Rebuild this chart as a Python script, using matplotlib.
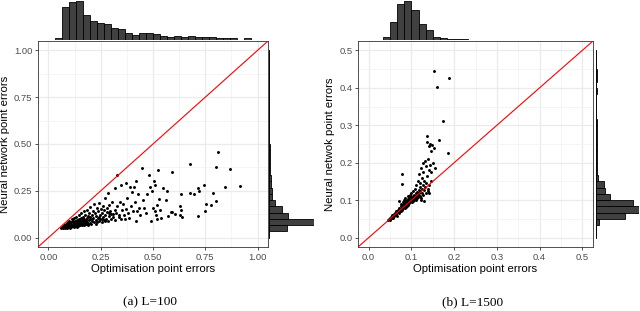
import numpy as np
import matplotlib
matplotlib.use("Agg")
import matplotlib.pyplot as plt

# ---------------- Panel (a) L=100 ----------------
a_x = [0.06, 0.065, 0.07, 0.07, 0.072, 0.075, 0.078, 0.08, 0.08, 0.082, 0.085, 0.085, 0.088, 0.09, 0.09,
       0.092, 0.095, 0.095, 0.098, 0.1, 0.1, 0.1, 0.102, 0.105, 0.105,
       0.11, 0.11, 0.11, 0.112, 0.115, 0.115, 0.118, 0.12, 0.12, 0.12, 0.122, 0.125, 0.125, 0.128, 0.13,
       0.13, 0.13, 0.132, 0.135, 0.135, 0.138, 0.14, 0.14, 0.142, 0.145, 0.145, 0.148, 0.15, 0.15,
       0.152, 0.155, 0.155, 0.158, 0.16, 0.16, 0.162, 0.165, 0.168, 0.17, 0.17, 0.172, 0.175, 0.175, 0.178,
       0.18, 0.182, 0.185, 0.185, 0.188, 0.19, 0.192, 0.195, 0.198, 0.2, 0.2,
       0.205, 0.208, 0.21, 0.212, 0.215, 0.218, 0.22, 0.222, 0.225, 0.228, 0.23, 0.232, 0.235, 0.238, 0.24,
       0.244, 0.245, 0.248, 0.25, 0.255, 0.258, 0.26, 0.262, 0.265, 0.268, 0.27, 0.272, 0.275, 0.278, 0.28,
       0.284, 0.285, 0.288, 0.29, 0.295, 0.298, 0.3,
       0.305, 0.31, 0.316, 0.318, 0.32, 0.325, 0.329, 0.33, 0.335, 0.34, 0.345, 0.349, 0.35, 0.355, 0.36,
       0.365, 0.37, 0.373, 0.375, 0.38, 0.385, 0.39, 0.395, 0.4, 0.405, 0.41, 0.415, 0.42, 0.421, 0.425,
       0.43, 0.435, 0.44, 0.448, 0.45,
       0.458, 0.465, 0.47, 0.48, 0.485, 0.49, 0.495, 0.5, 0.505, 0.508, 0.51, 0.515, 0.518, 0.52, 0.525,
       0.53, 0.535, 0.539, 0.549, 0.56, 0.565, 0.571, 0.584, 0.59, 0.59, 0.603, 0.628, 0.632, 0.63, 0.636, 0.64,
       0.679, 0.679, 0.697, 0.714, 0.714, 0.719, 0.746, 0.748, 0.754, 0.777, 0.788, 0.80, 0.80, 0.81,
       0.844, 0.866, 0.914,
       0.083, 0.093, 0.108, 0.117, 0.127, 0.137, 0.147, 0.157, 0.167, 0.177, 0.187, 0.197, 0.21, 0.225,
       0.24, 0.255, 0.27, 0.29, 0.31, 0.335]
a_y = [0.05, 0.055, 0.05, 0.06, 0.065, 0.055, 0.07, 0.05, 0.06, 0.075, 0.055, 0.065, 0.08, 0.05, 0.06,
       0.07, 0.085, 0.055, 0.065, 0.09, 0.06, 0.075, 0.052, 0.068, 0.08,
       0.055, 0.07, 0.085, 0.1, 0.06, 0.075, 0.09, 0.058, 0.068, 0.08, 0.105, 0.062, 0.09, 0.075, 0.06,
       0.07, 0.085, 0.11, 0.065, 0.095, 0.08, 0.062, 0.072, 0.088, 0.1, 0.12, 0.068, 0.078, 0.09,
       0.065, 0.085, 0.105, 0.13, 0.07, 0.095, 0.075, 0.11, 0.088, 0.068, 0.1, 0.14, 0.08, 0.12, 0.072,
       0.095, 0.105, 0.085, 0.15, 0.075, 0.115, 0.092, 0.13, 0.08, 0.1, 0.165,
       0.075, 0.12, 0.09, 0.14, 0.105, 0.18, 0.082, 0.13, 0.095, 0.115, 0.16, 0.085, 0.105, 0.14, 0.09,
       0.187, 0.12, 0.1, 0.155, 0.085, 0.13, 0.11, 0.17, 0.095, 0.145, 0.21, 0.12, 0.1, 0.16, 0.135,
       0.24, 0.09, 0.115, 0.175, 0.14, 0.1, 0.125,
       0.19, 0.11, 0.263, 0.15, 0.095, 0.13, 0.334, 0.17, 0.12, 0.19, 0.1, 0.281, 0.145, 0.18, 0.12,
       0.1, 0.155, 0.29, 0.21, 0.13, 0.105, 0.27, 0.17, 0.245, 0.14, 0.27, 0.19, 0.3, 0.089, 0.14,
       0.231, 0.16, 0.12, 0.37, 0.2,
       0.16, 0.13, 0.231, 0.333, 0.27, 0.09, 0.25, 0.16, 0.302, 0.14, 0.283, 0.12, 0.176, 0.1, 0.361,
       0.208, 0.15, 0.106, 0.265, 0.201, 0.249, 0.115, 0.138, 0.35, 0.137, 0.124, 0.167, 0.147, 0.12, 0.235, 0.11,
       0.393, 0.237, 0.235, 0.267, 0.115, 0.247, 0.281, 0.14, 0.18, 0.172, 0.24, 0.379, 0.194, 0.459,
       0.27, 0.366, 0.276,
       0.065, 0.072, 0.064, 0.082, 0.072, 0.058, 0.082, 0.075, 0.08, 0.09, 0.068, 0.11, 0.1, 0.075,
       0.11, 0.1, 0.09, 0.13, 0.125, 0.11]
# marginal histogram counts, 30 bins on [0, 1]
a_hist_x = [0, 1, 32, 37, 38, 24, 18, 16, 15, 11, 10, 6, 4, 6, 6, 5, 3, 2, 3, 2, 3, 2, 2, 2, 1, 1, 1, 0, 1, 0]
a_hist_y = [0, 17.7, 44, 18, 12, 5, 3, 2.5, 2, 1.5, 1, 1, 0.7, 0.5, 0.3, 0, 0, 0, 0, 0, 0, 0, 0, 0, 0, 0, 0, 0, 0, 0]

# ---------------- Panel (b) L=1500 ----------------
b_x = [0.045, 0.048, 0.05, 0.05, 0.052, 0.055, 0.055, 0.057, 0.058, 0.06, 0.06, 0.062, 0.063, 0.065, 0.065,
       0.066, 0.068, 0.068, 0.07, 0.07,
       0.071, 0.072, 0.073, 0.074, 0.075, 0.075, 0.076, 0.077, 0.078, 0.078, 0.079, 0.079, 0.08, 0.08, 0.081,
       0.082, 0.083, 0.083, 0.084, 0.085, 0.085, 0.086, 0.087, 0.087, 0.088, 0.089, 0.09, 0.09, 0.09,
       0.091, 0.092, 0.093, 0.093, 0.094, 0.095, 0.095, 0.096, 0.097, 0.097, 0.098, 0.099, 0.1, 0.1, 0.1,
       0.101, 0.102, 0.103, 0.103, 0.104, 0.105, 0.105, 0.106, 0.107, 0.108, 0.108, 0.109, 0.11, 0.11, 0.11,
       0.111, 0.112, 0.113, 0.114, 0.115, 0.115, 0.116, 0.117, 0.118, 0.118, 0.119, 0.12, 0.12, 0.121, 0.122,
       0.122, 0.123, 0.124, 0.125, 0.125, 0.126, 0.127, 0.128, 0.128, 0.129, 0.13, 0.13,
       0.131, 0.132, 0.133, 0.134, 0.135, 0.136, 0.136, 0.137, 0.138, 0.138, 0.139, 0.14, 0.14, 0.141, 0.142,
       0.143, 0.144, 0.145, 0.146, 0.147, 0.148, 0.15, 0.152, 0.1535, 0.155, 0.16, 0.1636,
       0.1745, 0.1846, 0.1886]
b_y = [0.047, 0.05, 0.052, 0.046, 0.055, 0.053, 0.06, 0.058, 0.052, 0.062, 0.057, 0.066, 0.06, 0.064, 0.07,
       0.058, 0.068, 0.075, 0.066, 0.072,
       0.08, 0.097, 0.07, 0.076, 0.085, 0.072, 0.09, 0.078, 0.17, 0.082, 0.144, 0.074, 0.088, 0.095, 0.079,
       0.084, 0.1, 0.09, 0.08, 0.086, 0.093, 0.105, 0.082, 0.09, 0.097, 0.086, 0.1, 0.092, 0.085,
       0.11, 0.095, 0.088, 0.103, 0.098, 0.092, 0.108, 0.1, 0.115, 0.094, 0.104, 0.097, 0.1, 0.108, 0.12,
       0.095, 0.104, 0.112, 0.099, 0.125, 0.106, 0.1, 0.115, 0.103, 0.11, 0.13, 0.105, 0.118, 0.1, 0.108,
       0.14, 0.112, 0.105, 0.122, 0.115, 0.15, 0.108, 0.128, 0.118, 0.17, 0.135, 0.112, 0.145, 0.125, 0.185,
       0.105, 0.1, 0.13, 0.16, 0.12, 0.2, 0.14, 0.115, 0.175, 0.098, 0.15, 0.128,
       0.205, 0.135, 0.19, 0.12, 0.145, 0.272, 0.165, 0.255, 0.13, 0.21, 0.124, 0.18, 0.118, 0.245, 0.14,
       0.195, 0.25, 0.15, 0.23, 0.175, 0.248, 0.2, 0.24, 0.445, 0.185, 0.403, 0.262,
       0.312, 0.227, 0.426]
# marginal histogram counts, 30 bins on [0, 0.5]
b_hist_x = [0, 0, 4, 25, 52, 56, 43, 23, 14, 3, 2, 1, 0.5, 0.5, 0, 0, 0, 0, 0, 0, 0, 0, 0, 0, 0, 0, 0, 0, 0, 0]
b_hist_y = [0, 0, 2.7, 28, 42, 36, 13, 8, 7, 2, 1, 1, 0.7, 0.5, 0.5, 0.3, 0.3, 0.3, 0.3, 0, 0, 0, 0, 0.3, 0, 0.3, 0.3, 0, 0, 0]

W, H = 640, 311
fig = plt.figure(figsize=(W / 100, H / 100), dpi=100)
plt.rcParams['font.family'] = ['Liberation Sans', 'DejaVu Sans']


def rect(x0, y0, x1, y1):
    return [x0 / W, 1 - y1 / H, (x1 - x0) / W, (y1 - y0) / H]


def panel(mx0, mx1, rx0, rx1, xs, ys, hx, hy, hi, ticks, tlabels, ylabel, caption):
    lo = 0.0
    pad = (hi - lo) * 0.05
    lim = (lo - pad, hi + pad)
    ax = fig.add_axes(rect(mx0, 41, mx1, 247))
    ax.set_xlim(lim)
    ax.set_ylim(lim)
    minors = [(ticks[i] + ticks[i + 1]) / 2 for i in range(len(ticks) - 1)]
    ax.set_xticks(ticks)
    ax.set_xticklabels(tlabels)
    ax.set_yticks(ticks)
    ax.set_yticklabels(tlabels)
    ax.set_xticks(minors, minor=True)
    ax.set_yticks(minors, minor=True)
    ax.grid(which='major', color='#EBEBEB', lw=0.9)
    ax.grid(which='minor', color='#F2F2F2', lw=0.5)
    ax.set_axisbelow(True)
    ax.tick_params(which='minor', length=0)
    ax.tick_params(which='major', length=2.5, width=0.6, color='#333333', labelsize=6.8,
                   labelcolor='#4D4D4D', pad=1.5)
    for s in ax.spines.values():
        s.set_color('#333333')
        s.set_linewidth(0.6)
    ax.scatter(xs, ys, s=4.5, c='black', linewidths=0, zorder=3)
    ax.axline((0, 0), slope=1, color='red', lw=0.8, zorder=4)
    ax.set_xlabel('Optimisation point errors', fontsize=8.2, labelpad=2)
    ax.set_ylabel(ylabel, fontsize=8.2, labelpad=3)

    edges = np.linspace(lo, hi, len(hx) + 1)
    top = fig.add_axes(rect(mx0, 1, mx1, 39.5))
    top.bar(edges[:-1], hx, width=np.diff(edges), align='edge', color='#404040',
            edgecolor='black', lw=0.6)
    top.plot([edges[0], edges[-1]], [0, 0], color='black', lw=0.6)
    top.set_xlim(lim)
    top.set_ylim(0, max(hx))
    top.axis('off')

    right = fig.add_axes(rect(rx0, 41, rx1, 247))
    right.barh(edges[:-1], hy, height=np.diff(edges), align='edge', color='#404040',
               edgecolor='black', lw=0.6)
    right.plot([0, 0], [edges[0], edges[-1]], color='black', lw=0.6)
    right.set_ylim(lim)
    right.set_xlim(-max(hy) * 0.01, max(hy))
    right.axis('off')

    fig.text((mx0 + mx1) / 2 / W - 0.005, 1 - 302 / H, caption, ha='center', va='center',
             fontsize=9.5, family=['Liberation Serif', 'DejaVu Serif'])


panel(38, 268, 269, 314, a_x, a_y, a_hist_x, a_hist_y, 1.0,
      [0, 0.25, 0.5, 0.75, 1.0], ['0.00', '0.25', '0.50', '0.75', '1.00'],
      'Neural network point errors', '(a) L=100')
panel(358, 593, 596, 639, b_x, b_y, b_hist_x, b_hist_y, 0.5,
      [0, 0.1, 0.2, 0.3, 0.4, 0.5], ['0.0', '0.1', '0.2', '0.3', '0.4', '0.5'],
      'Neural netwok point errors', '(b) L=1500')

fig.savefig('out.png', dpi=100)
